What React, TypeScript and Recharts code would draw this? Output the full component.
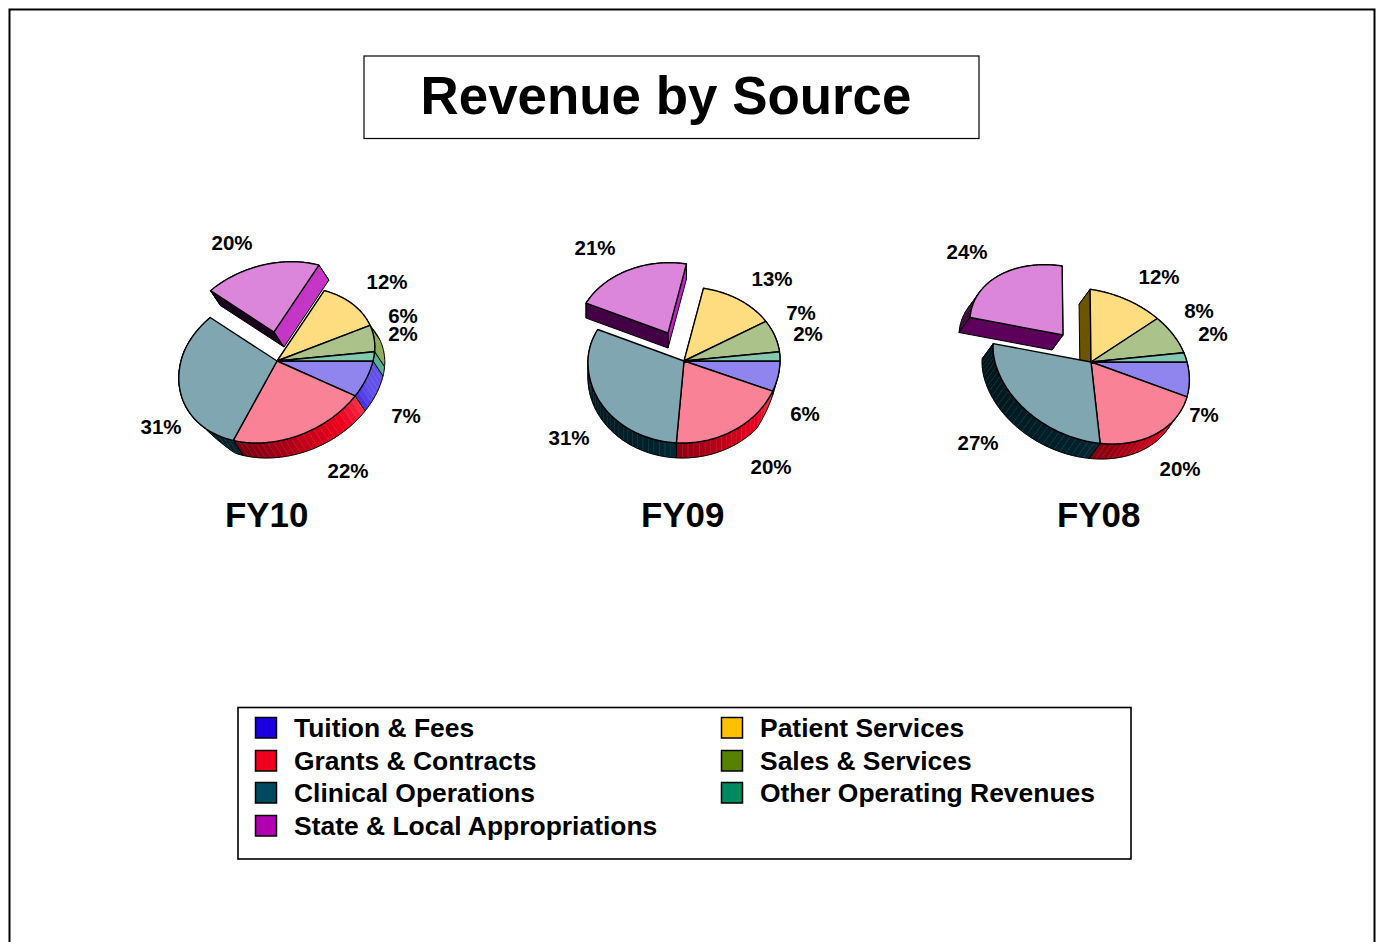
import React from "react";
import { PieChart, Pie } from "recharts";

const categories = [
  "Tuition & Fees",
  "Grants & Contracts",
  "Clinical Operations",
  "State & Local Appropriations",
  "Patient Services",
  "Sales & Services",
  "Other Operating Revenues",
];
const fy10Values = [7, 22, 31, 20, 12, 6, 2];
const fy09Values = [6, 20, 31, 21, 13, 7, 2];
const fy08Values = [7, 20, 27, 24, 12, 8, 2];

const baseColors = ["#1a00e0", "#f0001f", "#004a60", "#b000b0", "#ffc000", "#558000", "#008860"];
const topColors = ["#9085ee", "#fa8296", "#80a6b2", "#db86db", "#fddd80", "#abc38a", "#84c8b0"];

const FONT = "'Liberation Sans', Arial, sans-serif";
const EXPLODED = 3;
const PATIENT = 4;
const RX = 96;
const RY_DOWN = 82;
const RY_UP = 74;
const EXPLODED_SCALE = 0.95;

type Cfg = {
  name: string;
  values: number[];
  left: number;
  top: number;
  shear: number;
  depth: [number, number];
  explode: [number, number];
  startWall: string;
  endWall: string;
  labels: [number, number][];
  titleX: number;
  scale?: number;
  taper?: (t: number) => number;
};

const clamp01 = (v: number) => Math.max(0, Math.min(1, v));

const charts: Cfg[] = [
  {
    name: "FY10", values: fy10Values, left: 100, top: 200, shear: -0.25, depth: [10, 15], explode: [-3, -29],
    startWall: "#1a001a", endWall: "#c636c6", titleX: 266.7,
    taper: (t) => (t > 100 && t < 200 ? clamp01((126 - t) / 16) : 1),
    labels: [[129, 55], [71, 110], [-116, 66], [-45, -118], [110, -79], [126, -45], [126, -27]],
  },
  {
    name: "FY09", values: fy09Values, left: 507, top: 200, shear: -0.02, depth: [0, 15], explode: [-16, -28],
    startWall: "#440044", endWall: "#c61ecb", titleX: 682.7,
    taper: (t) => (t < 60 || t > 300 ? clamp01((t > 300 ? 0 : t - 15) / 25) : 1),
    labels: [[121, 53], [87, 106], [-115, 77], [-89, -113], [88, -82], [117, -48], [124, -27]],
  },
  {
    name: "FY08", values: fy08Values, left: 914, top: 201, shear: 0.26, depth: [-11, 15], explode: [-28, -27],
    startWall: "#5c005c", endWall: "#6b5500", titleX: 1098.7,
    labels: [[113, 53], [89, 107], [-113, 81], [-124, -110], [68, -85], [108, -51], [122, -28]],
  },
];

const CX = 177;
const CY = 161;

function hexToRgb(h: string) {
  return [parseInt(h.slice(1, 3), 16), parseInt(h.slice(3, 5), 16), parseInt(h.slice(5, 7), 16)];
}
function rgb(c: number[]) {
  return `rgb(${c.map((v) => Math.round(v)).join(",")})`;
}
function wallShade(hex: string, theta: number, lift = 0) {
  const c = hexToRgb(hex);
  let t = ((theta % 360) + 360) % 360;
  if (t > 270) t -= 360;
  let out: number[];
  if (t < 15) out = c.map((v) => v + (255 - v) * 0.32);
  else if (t < 40) {
    const f = 0.32 * (1 - (t - 15) / 25);
    out = c.map((v) => v + (255 - v) * f);
  } else if (t < 110) {
    const f = 1 - ((t - 40) / 70) * 0.55;
    out = c.map((v) => v * f);
  } else {
    const f = 0.45 - Math.min(1, (t - 110) / 70) * 0.15;
    out = c.map((v) => v * f);
  }
  return rgb(out.map((v) => v + (255 - v) * lift));
}

function point(cfg: Cfg, cx: number, cy: number, theta: number) {
  const rad = (theta * Math.PI) / 180;
  const s = Math.sin(rad);
  const k = cfg.scale ?? 1;
  const y = s * (s > 0 ? RY_DOWN : RY_UP) * k;
  return [cx + RX * k * Math.cos(rad) + cfg.shear * y, cy + y];
}
function thetas(a: number, b: number) {
  const out: number[] = [];
  const n = Math.max(2, Math.ceil(b - a));
  for (let i = 0; i <= n; i++) out.push(a + ((b - a) * i) / n);
  return out;
}
function arcPts(cfg: Cfg, cx: number, cy: number, a: number, b: number) {
  return thetas(a, b).map((t) => point(cfg, cx, cy, t));
}
const toPath = (pts: number[][]) =>
  pts.map((p, i) => `${i ? "L" : "M"}${p[0].toFixed(2)} ${p[1].toFixed(2)}`).join(" ");

function Wedge(cfg: Cfg, p: any, withOffset: boolean) {
  const off = withOffset ? cfg.explode : [0, 0];
  const cx = p.cx + off[0];
  const cy = p.cy + off[1];
  const a = -p.startAngle;
  const b = -p.endAngle;
  return { cx, cy, a, b };
}

function TopFace({ cfg, p, exploded }: any) {
  const { cx, cy, a, b } = Wedge(cfg, p, exploded);
  const d = `M${cx} ${cy} ` + toPath(arcPts(cfg, cx, cy, a, b)).replace(/^M/, "L") + " Z";
  return <path d={d} fill={topColors[p.index]} stroke="#000" strokeWidth={1.4} strokeLinejoin="round" />;
}

function ArcWall({ cfg, p, exploded }: any) {
  const { cx, cy, a, b } = Wedge(cfg, p, exploded);
  const [dx, dy] = cfg.depth;
  const taper = (t: number) => (exploded || !cfg.taper ? 1 : cfg.taper(t));
  const lower = (q: number[], t: number) => [q[0] + dx * taper(t), q[1] + dy * taper(t)];
  const base = baseColors[p.index];
  const step = 3.5;
  const n = Math.max(1, Math.ceil((b - a) / step));
  const facets = [];
  for (let i = 0; i < n; i++) {
    const t1 = a + ((b - a) * i) / n;
    const t2 = a + ((b - a) * (i + 1)) / n;
    const p1 = point(cfg, cx, cy, t1);
    const p2 = point(cfg, cx, cy, t2);
    const l1 = lower(p1, t1);
    const l2 = lower(p2, t2);
    const quad = [p1, p2, l2, l1];
    const fill = wallShade(base, (t1 + t2) / 2);
    facets.push(<path key={i} d={toPath(quad) + " Z"} fill={fill} stroke={fill} strokeWidth={0.5} />);
    facets.push(
      <line key={`s${i}`} x1={p2[0]} y1={p2[1]} x2={l2[0]} y2={l2[1]}
        stroke={wallShade(base, (t1 + t2) / 2, 0.3)} strokeWidth={0.7} />
    );
  }
  const ts = thetas(a, b);
  const top = ts.map((t) => point(cfg, cx, cy, t));
  const bottom = ts.map((t, i) => lower(top[i], t));
  const outline = toPath([...top, ...bottom.reverse()]) + " Z";
  return (
    <g>
      {facets}
      <path d={outline} fill="none" stroke="#000" strokeWidth={1} strokeLinejoin="round" />
    </g>
  );
}

function RadialWall({ cfg, p, exploded, theta, fill }: any) {
  const { cx, cy } = Wedge(cfg, p, exploded);
  const [dx, dy] = cfg.depth;
  const q = point(cfg, cx, cy, theta);
  const quad = [[cx, cy], q, [q[0] + dx, q[1] + dy], [cx + dx, cy + dy]];
  return <path d={toPath(quad) + " Z"} fill={fill} stroke="#000" strokeWidth={1} strokeLinejoin="round" />;
}

function wallLayer(cfg: Cfg) {
  return (p: any) => {
    if (p.index === EXPLODED) return <g />;
    return (
      <g>
        <ArcWall cfg={cfg} p={p} exploded={false} />
        {p.index === PATIENT && (
          <RadialWall cfg={cfg} p={p} exploded={false} theta={-p.startAngle} fill="#6b5500" />
        )}
      </g>
    );
  };
}
function topLayer(cfg: Cfg) {
  return (p: any) => (p.index === EXPLODED ? <g /> : <TopFace cfg={cfg} p={p} exploded={false} />);
}
function explodedLayer(cfg: Cfg) {
  const scaled = { ...cfg, scale: EXPLODED_SCALE };
  return (p: any) => {
    if (p.index !== EXPLODED) return <g />;
    return (
      <g>
        <ArcWall cfg={scaled} p={p} exploded />
        <RadialWall cfg={scaled} p={p} exploded theta={-p.endAngle} fill={cfg.shear > 0.1 ? cfg.startWall : cfg.endWall} />
        <RadialWall cfg={scaled} p={p} exploded theta={-p.startAngle} fill={cfg.startWall} />
        <TopFace cfg={scaled} p={p} exploded />
      </g>
    );
  };
}

function YearPie({ cfg }: { cfg: Cfg }) {
  const data = categories.map((name, i) => ({ name, value: cfg.values[i] }));
  const common = {
    data, dataKey: "value", nameKey: "name", cx: CX, cy: CY, outerRadius: RX, innerRadius: 0,
    startAngle: 0, endAngle: -360, isAnimationActive: false, stroke: "none", labelLine: false,
  };
  const renderLabel = (p: any) => (
    <text x={CX + cfg.labels[p.index][0]} y={CY + cfg.labels[p.index][1] - 1} textAnchor="middle"
      dominantBaseline="central" fontFamily={FONT} fontWeight={700} fontSize={20.5} fill="#000">
      {`${p.value}%`}
    </text>
  );
  return (
    <div style={{ position: "absolute", left: cfg.left, top: cfg.top }}>
      <PieChart width={340} height={300} margin={{ top: 0, right: 0, bottom: 0, left: 0 }}>
        <Pie {...(common as any)} shape={wallLayer(cfg)} activeShape={wallLayer(cfg)} />
        <Pie {...(common as any)} shape={topLayer(cfg)} activeShape={topLayer(cfg)} />
        <Pie {...(common as any)} shape={explodedLayer(cfg)} activeShape={explodedLayer(cfg)} label={renderLabel} />
      </PieChart>
    </div>
  );
}

const legendLeft = categories.slice(0, 4);
const legendRight = categories.slice(4);
const legendRowY = [728, 761, 793, 826];

function LegendRow({ x, textX, y, label, color }: any) {
  return (
    <g>
      <rect x={x} y={y - 10.5} width={21} height={20.5} fill={color} stroke="#000" strokeWidth={1.5} />
      <text x={textX} y={y} dominantBaseline="central" fontFamily={FONT} fontWeight={700} fontSize={26.45} fill="#000">
        {label}
      </text>
    </g>
  );
}

export default function App() {
  return (
    <div style={{ position: "absolute", left: 0, top: 0, width: 1380, height: 942, overflow: "hidden", background: "#fff" }}>
      <svg width={1380} height={942} style={{ position: "absolute", left: 0, top: 0 }}>
        <path d="M9.5 942 V9.5 H1374.5 V942" fill="none" stroke="#000" strokeWidth={2} />
        <rect x={364} y={56} width={615} height={82.5} fill="#fff" stroke="#000" strokeWidth={1.2} />
        <text x={666} y={95} textAnchor="middle" dominantBaseline="central" fontFamily={FONT} fontWeight={700} fontSize={52.9} fill="#000">
          Revenue by Source
        </text>
        {charts.map((c) => (
          <text key={c.name} x={c.titleX} y={514} textAnchor="middle" dominantBaseline="central" fontFamily={FONT} fontWeight={700} fontSize={34.9} fill="#000">
            {c.name}
          </text>
        ))}
        <rect x={238} y={707.5} width={893} height={151.5} fill="#fff" stroke="#000" strokeWidth={1.6} />
        {legendLeft.map((label, i) => (
          <LegendRow key={label} x={255.5} textX={294} y={legendRowY[i]} label={label} color={baseColors[i]} />
        ))}
        {legendRight.map((label, i) => (
          <LegendRow key={label} x={721.5} textX={760} y={legendRowY[i]} label={label} color={baseColors[i + 4]} />
        ))}
      </svg>
      {charts.map((c) => (
        <YearPie key={c.name} cfg={c} />
      ))}
    </div>
  );
}
